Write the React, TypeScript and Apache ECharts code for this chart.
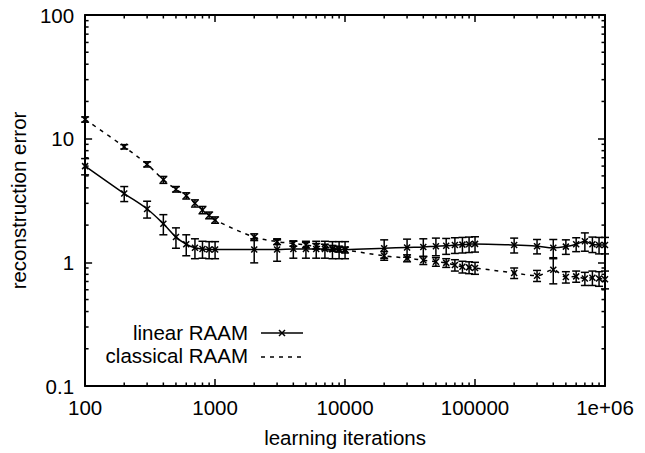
import React, { useEffect, useRef } from "react";
import * as echarts from "echarts";

const iterations = [
  100, 200, 300, 400, 500, 600, 700, 800, 900,
  1000, 2000, 3000, 4000, 5000, 6000, 7000, 8000, 9000,
  10000, 20000, 30000, 40000, 50000, 60000, 70000, 80000, 90000,
  100000, 200000, 300000, 400000, 500000, 600000, 700000, 800000, 900000,
  1000000,
];

const linearError = [
  6.0, 3.6, 2.7, 2.05, 1.6, 1.4, 1.31, 1.28, 1.27,
  1.27, 1.27, 1.27, 1.28, 1.28, 1.28, 1.28, 1.27, 1.27,
  1.27, 1.3, 1.32, 1.33, 1.35, 1.36, 1.38, 1.39, 1.4,
  1.41, 1.38, 1.35, 1.31, 1.34, 1.4, 1.48, 1.4, 1.38,
  1.38,
];
const linearSpread = [
  0.9, 0.5, 0.42, 0.38, 0.3, 0.27, 0.24, 0.2, 0.2,
  0.2, 0.28, 0.25, 0.2, 0.2, 0.2, 0.2, 0.2, 0.2,
  0.2, 0.22, 0.22, 0.22, 0.22, 0.2, 0.2, 0.2, 0.2,
  0.2, 0.19, 0.18, 0.22, 0.18, 0.18, 0.25, 0.2, 0.21,
  0.21,
];

const classicalError = [
  14.3, 8.6, 6.2, 4.65, 3.9, 3.45, 3.0, 2.65, 2.4,
  2.2, 1.6, 1.47, 1.42, 1.38, 1.35, 1.33, 1.3, 1.28,
  1.26, 1.13, 1.08, 1.04, 1.01, 0.99, 0.95, 0.92, 0.91,
  0.9, 0.82, 0.78, 0.87, 0.76, 0.77, 0.74, 0.75, 0.74,
  0.73,
];
const classicalSpread = [
  0.7, 0.35, 0.3, 0.3, 0.2, 0.2, 0.2, 0.18, 0.15,
  0.13, 0.1, 0.08, 0.07, 0.07, 0.07, 0.07, 0.07, 0.07,
  0.07, 0.09, 0.07, 0.08, 0.08, 0.08, 0.1, 0.1, 0.1,
  0.1, 0.08, 0.08, 0.2, 0.08, 0.08, 0.09, 0.1, 0.1,
  0.12,
];

const xTickLabels = ["100", "1000", "10000", "100000", "1e+06"];
const yTickLabels = ["0.1", "1", "10", "100"];
const xDecades = [100, 1000, 10000, 100000];
const yDecades = [0.1, 1, 10];
const minorFactors = [2, 3, 4, 5, 6, 7, 8, 9];

const FONT = "'Liberation Sans', Arial, Helvetica, sans-serif";
const FS = 20.5;

function errorBarItem(params: any, api: any) {
  const x = api.value(0);
  const p = api.coord([x, api.value(1)]);
  const lo = api.coord([x, api.value(2)]);
  const hi = api.coord([x, api.value(3)]);
  const cap = 4;
  const m = 3;
  const style = { stroke: "#000", lineWidth: 1.5 };
  return {
    type: "group",
    children: [
      { type: "line", shape: { x1: p[0], y1: hi[1], x2: p[0], y2: lo[1] }, style },
      { type: "line", shape: { x1: p[0] - cap, y1: hi[1], x2: p[0] + cap, y2: hi[1] }, style },
      { type: "line", shape: { x1: p[0] - cap, y1: lo[1], x2: p[0] + cap, y2: lo[1] }, style },
      { type: "line", shape: { x1: p[0] - m, y1: p[1] - m, x2: p[0] + m, y2: p[1] + m }, style },
      { type: "line", shape: { x1: p[0] - m, y1: p[1] + m, x2: p[0] + m, y2: p[1] - m }, style },
    ],
  };
}

export default function App() {
  const ref = useRef<HTMLDivElement>(null);
  useEffect(() => {
    if (!ref.current) return;
    const chart = echarts.init(ref.current, null, { renderer: "svg" });

    const xMinor = xDecades.flatMap((d) => minorFactors.map((f) => [d * f, 1]));
    const yMinor = yDecades.flatMap((d) => minorFactors.map((f) => [1000, d * f]));
    const tickStyle = { stroke: "#000", lineWidth: 1.5 };
    const minorLen = 3.5;

    const xLabel = (v: number) => xTickLabels[Math.round(Math.log10(v)) - 2] ?? "";
    const yLabel = (v: number) => yTickLabels[Math.round(Math.log10(v)) + 1] ?? "";

    const axisCommon = {
      type: "log",
      logBase: 10,
      axisLine: { show: true, lineStyle: { color: "#000", width: 2 } },
      axisTick: { show: true, inside: true, length: 7, lineStyle: { color: "#000", width: 1.5 } },
      splitLine: { show: false },
      minorTick: { show: false },
    };

    chart.setOption({
      animation: false,
      grid: { left: 81, right: 40, top: 15, bottom: 64 },
      xAxis: [
        {
          ...axisCommon,
          position: "bottom",
          min: 100,
          max: 1000000,
          name: "learning iterations",
          nameLocation: "middle",
          nameGap: 41,
          nameTextStyle: { color: "#000", fontFamily: FONT, fontSize: FS },
          axisLabel: {
            color: "#000",
            fontFamily: FONT,
            fontSize: FS,
            margin: 11,
            formatter: xLabel,
          },
        },
        {
          ...axisCommon,
          position: "top",
          min: 100,
          max: 1000000,
          axisLabel: { show: false },
        },
      ],
      yAxis: [
        {
          ...axisCommon,
          position: "left",
          min: 0.1,
          max: 100,
          name: "reconstruction error",
          nameLocation: "middle",
          nameGap: 50,
          nameTextStyle: { color: "#000", fontFamily: FONT, fontSize: FS },
          axisLabel: {
            color: "#000",
            fontFamily: FONT,
            fontSize: FS,
            margin: 11,
            formatter: yLabel,
          },
        },
        {
          ...axisCommon,
          position: "right",
          min: 0.1,
          max: 100,
          axisLabel: { show: false },
        },
      ],
      series: [
        {
          type: "line",
          name: "linear RAAM",
          data: iterations.map((x, i) => [x, linearError[i]]),
          smooth: 0.35,
          symbol: "none",
          lineStyle: { color: "#000", width: 1.5, type: "solid" },
          z: 3,
        },
        {
          type: "line",
          name: "classical RAAM",
          data: iterations.map((x, i) => [x, classicalError[i]]),
          smooth: 0.35,
          symbol: "none",
          lineStyle: { color: "#000", width: 1.5, type: [4, 5] },
          z: 3,
        },
        {
          type: "custom",
          name: "linear bars",
          data: iterations.map((x, i) => [
            x,
            linearError[i],
            linearError[i] - linearSpread[i],
            linearError[i] + linearSpread[i],
          ]),
          renderItem: errorBarItem,
          clip: false,
          z: 4,
        },
        {
          type: "custom",
          name: "classical bars",
          data: iterations.map((x, i) => [
            x,
            classicalError[i],
            classicalError[i] - classicalSpread[i],
            classicalError[i] + classicalSpread[i],
          ]),
          renderItem: errorBarItem,
          clip: false,
          z: 4,
        },
        {
          type: "custom",
          name: "x minor ticks",
          data: xMinor,
          clip: false,
          silent: true,
          renderItem: (params: any, api: any) => {
            const cs = params.coordSys;
            const px = api.coord([api.value(0), 1])[0];
            const b = cs.y + cs.height;
            return {
              type: "group",
              children: [
                { type: "line", shape: { x1: px, y1: b, x2: px, y2: b - minorLen }, style: tickStyle },
                { type: "line", shape: { x1: px, y1: cs.y, x2: px, y2: cs.y + minorLen }, style: tickStyle },
              ],
            };
          },
        },
        {
          type: "custom",
          name: "y minor ticks",
          data: yMinor,
          clip: false,
          silent: true,
          renderItem: (params: any, api: any) => {
            const cs = params.coordSys;
            const py = api.coord([1000, api.value(1)])[1];
            const r = cs.x + cs.width;
            return {
              type: "group",
              children: [
                { type: "line", shape: { x1: cs.x, y1: py, x2: cs.x + minorLen, y2: py }, style: tickStyle },
                { type: "line", shape: { x1: r, y1: py, x2: r - minorLen, y2: py }, style: tickStyle },
              ],
            };
          },
        },
      ],
      graphic: [
        {
          type: "text",
          x: 248,
          y: 332,
          style: {
            text: "linear RAAM",
            fill: "#000",
            font: `${FS}px ${FONT}`,
            align: "right",
            verticalAlign: "middle",
          },
        },
        {
          type: "line",
          shape: { x1: 261, y1: 333, x2: 303, y2: 333 },
          style: { stroke: "#000", lineWidth: 1.5 },
        },
        {
          type: "line",
          shape: { x1: 279, y1: 330, x2: 285, y2: 336 },
          style: { stroke: "#000", lineWidth: 1.5 },
        },
        {
          type: "line",
          shape: { x1: 279, y1: 336, x2: 285, y2: 330 },
          style: { stroke: "#000", lineWidth: 1.5 },
        },
        {
          type: "text",
          x: 248,
          y: 355,
          style: {
            text: "classical RAAM",
            fill: "#000",
            font: `${FS}px ${FONT}`,
            align: "right",
            verticalAlign: "middle",
          },
        },
        {
          type: "line",
          shape: { x1: 261, y1: 357, x2: 303, y2: 357 },
          style: { stroke: "#000", lineWidth: 1.5, lineDash: [4, 5] },
        },
      ],
    });

    return () => {
      chart.dispose();
    };
  }, []);

  return (
    <div
      ref={ref}
      style={{ position: "fixed", left: 0, top: 0, width: 645, height: 453, background: "#fff" }}
    />
  );
}
